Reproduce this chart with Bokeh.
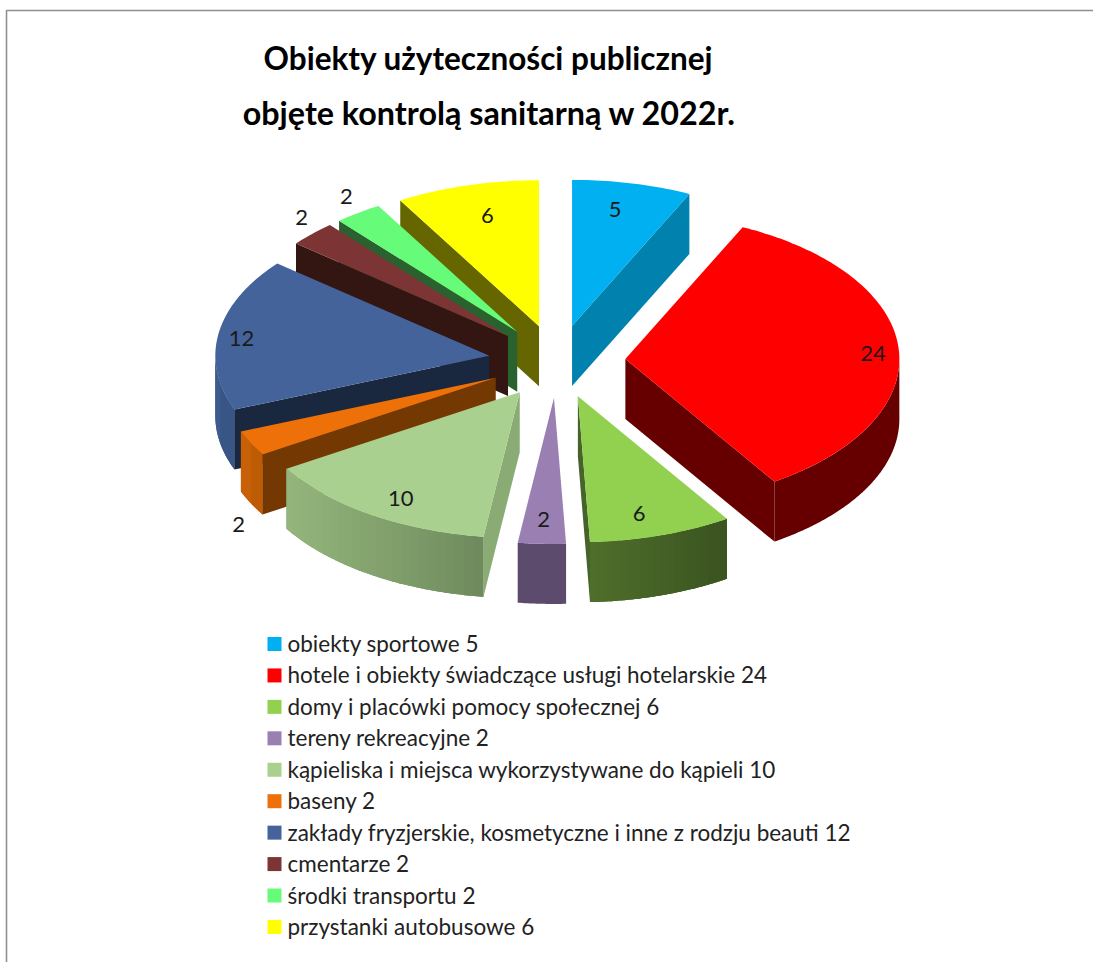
import math
from bokeh.plotting import figure
from bokeh.models import Range1d
from bokeh.core.properties import value
from bokeh.embed import file_html
from bokeh.resources import INLINE

# ---- data ----
categories = ["obiekty sportowe", "hotele i obiekty świadczące usługi hotelarskie",
              "domy i placówki pomocy społecznej", "tereny rekreacyjne",
              "kąpieliska i miejsca wykorzystywane do kąpieli", "baseny",
              "zakłady fryzjerskie, kosmetyczne i inne z rodzju beauti", "cmentarze",
              "środki transportu", "przystanki autobusowe"]
counts = [5, 24, 6, 2, 10, 2, 12, 2, 2, 6]
title_lines = ["Obiekty użyteczności publicznej", "objęte kontrolą sanitarną w 2022r."]

# ---- styles ----
top_colors = ["#00B0F0", "#FF0000", "#92D050", "#9A7FB3", "#A9D08E",
              "#ED7008", "#44639B", "#7C3434", "#66FB78", "#FFFF00"]
edge_colors = ["#0081AE", "#660000", "#46632A", "#5D4B6D", "#8AAB74",
               "#743802", "#19273F", "#331512", "#29622F", "#666600"]
wall_left = ["#0081AE", "#660000", "#4F6F2B", "#5D4B6D", "#94B67C",
             "#CC6206", "#3F5D91", "#331512", "#29622F", "#666600"]
wall_right = ["#0081AE", "#660000", "#3B5320", "#5D4B6D", "#6E8A5D",
              "#B85805", "#34507F", "#331512", "#29622F", "#666600"]
# data-label placement, relative to each slice's own apex
label_angle = [11.2, 87.4, 164.4, 182.6, 210.9, 223.0, 277.3, 317.0, 326.0, 346.1]
label_radius = [0.81, 0.905, 0.832, 0.83, 0.846, 1.376, 0.912, 1.105, 1.115, 0.783]

# ---- pie geometry (page pixels) ----
CX, CY, RX, RY, DEPTH, EXPLODE = 556.5, 361, 274, 146, 60, 0.25
FONT = value("Lato")
W, H = 1093, 962


def rim(ax, ay, deg):
    a = math.radians(deg)
    return ax + RX * math.sin(a), ay - RY * math.cos(a)


def hex_mix(c1, c2, t):
    v1 = [int(c1[i:i + 2], 16) for i in (1, 3, 5)]
    v2 = [int(c2[i:i + 2], 16) for i in (1, 3, 5)]
    return "#%02x%02x%02x" % tuple(round(a + (b - a) * t) for a, b in zip(v1, v2))


total = sum(counts)
slices = []
cum = 0
for i, v in enumerate(counts):
    a0 = cum / total * 360
    cum += v
    a1 = cum / total * 360
    mid = (a0 + a1) / 2
    m = math.radians(mid)
    ax = CX + EXPLODE * RX * math.sin(m)
    ay = CY - EXPLODE * RY * math.cos(m)
    slices.append(dict(i=i, a0=a0, a1=a1, mid=mid, ax=ax, ay=ay))

# painter's order: back slices first
order = sorted(slices, key=lambda s: abs((s["mid"] + 180) % 360 - 180))

xs, ys, fills = [], [], []


def add(px, py, col):
    xs.append(px)
    ys.append(py)
    fills.append(col)


for s in order:
    i, a0, a1, ax, ay = s["i"], s["a0"], s["a1"], s["ax"], s["ay"]
    # outer wall, only where the rim faces the viewer
    lo, hi = max(a0, 90), min(a1, 270)
    if hi > lo:
        n = max(4, int((hi - lo) / 0.5))
        pts = [rim(ax, ay, lo + (hi - lo) * k / n) for k in range(n + 1)]
        px = [q[0] for q in pts]
        py = [q[1] for q in pts]
        # solid base of the whole wall
        add(px + px[::-1], py + [v + DEPTH for v in py[::-1]],
            hex_mix(wall_left[i], wall_right[i], 0.5))
        # gradient bands, each overlapping the next
        if wall_left[i] != wall_right[i]:
            xa, xb = min(px), max(px)
            bands = max(2, int((xb - xa) / 8))
            step = max(1, n // bands)
            for k in range(0, n, step):
                e = min(n, k + step + 1)
                bx = px[k:e + 1]
                by = py[k:e + 1]
                t = ((bx[0] + bx[-1]) / 2 - xa) / max(xb - xa, 1)
                add(bx + bx[::-1], by + [v + DEPTH for v in by[::-1]],
                    hex_mix(wall_left[i], wall_right[i], t))
    # radial walls that face the viewer
    for deg, visible in ((a0, math.sin(math.radians(a0)) < -1e-6),
                         (a1, math.sin(math.radians(a1)) > 1e-6)):
        if visible:
            x1, y1 = rim(ax, ay, deg)
            add([ax, x1, x1, ax], [ay, y1, y1 + DEPTH, ay + DEPTH], edge_colors[i])
    # top face
    n = max(4, int(a1 - a0))
    pts = [rim(ax, ay, a0 + (a1 - a0) * k / n) for k in range(n + 1)]
    add([ax] + [q[0] for q in pts], [ay] + [q[1] for q in pts], top_colors[i])

p = figure(width=W, height=H, x_range=Range1d(0, W), y_range=Range1d(H, 0),
           output_backend="svg", toolbar_location=None, min_border=0,
           outline_line_color=None, background_fill_color="white",
           border_fill_color="white")
p.xaxis.visible = False
p.yaxis.visible = False
p.xgrid.visible = False
p.ygrid.visible = False

# chart-area border
p.multi_line([[6, 6, W]], [[H, 10, 10]], line_color="#8f8f8f", line_width=1.6)

p.patches(xs, ys, fill_color=fills, line_color=None)

# data labels
lx, ly, lt = [], [], []
for s in slices:
    i = s["i"]
    a = math.radians(label_angle[i])
    lx.append(s["ax"] + label_radius[i] * RX * math.sin(a))
    ly.append(s["ay"] - label_radius[i] * RY * math.cos(a))
    lt.append(str(counts[i]))
p.text(lx, ly, text=lt, text_font=FONT, text_font_size="22px", text_color="#1a1a1a",
       text_align="center", text_baseline="middle")

# title
p.text([488], [57], text=title_lines[:1], text_font=FONT, text_font_size="31.5px",
       text_font_style="bold", text_color="black", text_align="center",
       text_baseline="middle")
p.text([489], [112], text=title_lines[1:], text_font=FONT, text_font_size="32.3px",
       text_font_style="bold", text_color="black", text_align="center",
       text_baseline="middle")

# legend
LEG_X, LEG_Y, LEG_STEP = 274, 643.5, 31.44
ry = [LEG_Y + LEG_STEP * k for k in range(len(categories))]
p.scatter([LEG_X] * len(ry), ry, marker="square", size=14, fill_color=top_colors,
          line_color=None)
p.text([287] * len(ry), [v - 0.5 for v in ry],
       text=[f"{c} {v}" for c, v in zip(categories, counts)],
       text_font=FONT, text_font_size="22.5px", text_color="#222222",
       text_align="left", text_baseline="middle")

open("out.html", "w").write(file_html(p, INLINE))
